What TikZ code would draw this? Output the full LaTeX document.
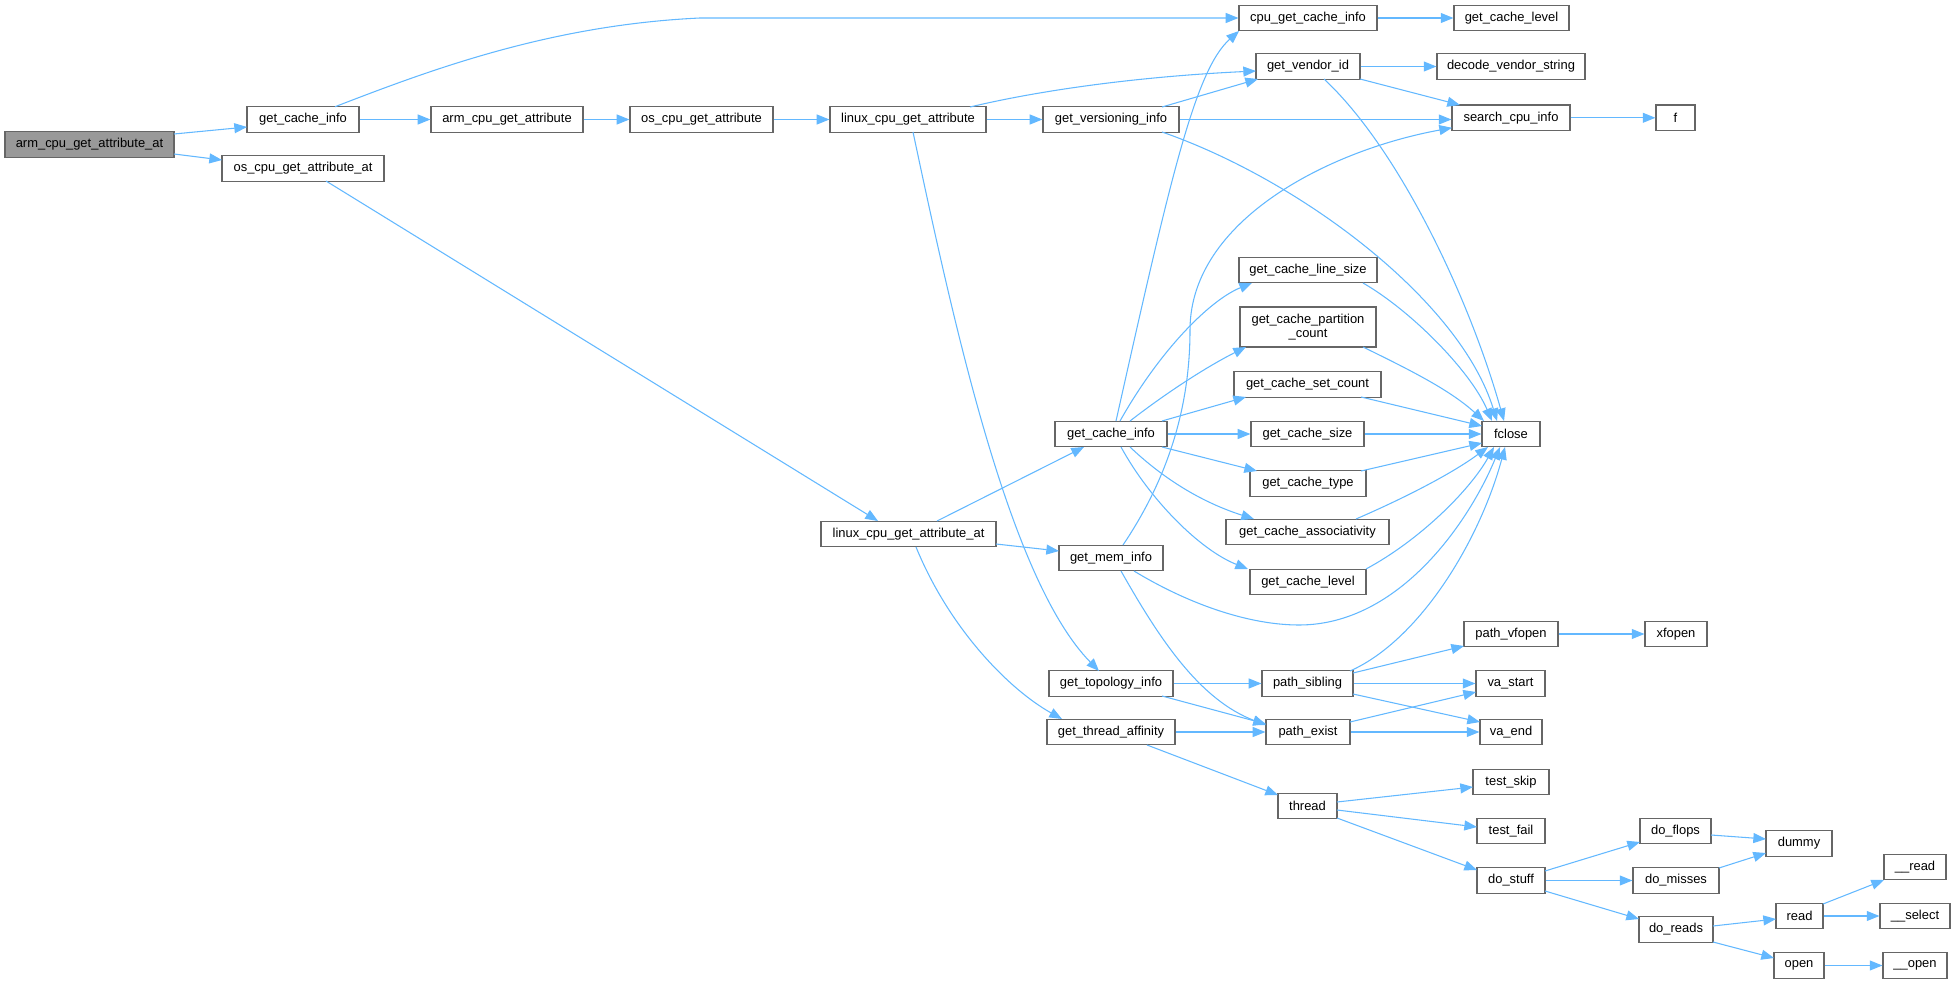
\documentclass[tikz,border=0pt]{standalone}
\usepackage{fontspec}
\setmainfont{Liberation Sans}
\usetikzlibrary{arrows.meta}
\definecolor{edgeblue}{HTML}{63B8FF}
\definecolor{boxgray}{HTML}{666666}
\definecolor{rootfill}{HTML}{999999}
\newcommand{\nd}[3]{([shift={(#2,#3)}]#1.center)}
\begin{document}
\begin{tikzpicture}[x=0.75pt,y=-0.75pt,
  box/.style={draw=boxgray,line width=0.9pt,fill=white,inner sep=0pt,minimum height=19.1pt,
    font=\fontsize{9.7}{10.8}\selectfont,align=center},
  rootbox/.style={box,fill=rootfill},
  edge/.style={draw=edgeblue,line width=0.8pt,-{Triangle[length=9.5pt,width=7.5pt]}}]
\useasboundingbox (0,0) rectangle (1956,984);
% nodes
\node[rootbox,minimum width=126.75pt] (root) at (89.5,144.5) {arm\_cpu\_get\_attribute\_at};
\node[box,minimum width=84pt] (gci1) at (303,119.5) {get\_cache\_info};
\node[box,minimum width=114pt] (armga) at (507,119.5) {arm\_cpu\_get\_attribute};
\node[box,minimum width=107.25pt] (osga) at (701.5,119.5) {os\_cpu\_get\_attribute};
\node[box,minimum width=121.5pt] (osgaat) at (303,168.5) {os\_cpu\_get\_attribute\_at};
\node[box,minimum width=117pt] (linga) at (908,119.5) {linux\_cpu\_get\_attribute};
\node[box,minimum width=102pt] (gvi) at (1111,119.5) {get\_versioning\_info};
\node[box,minimum width=103.5pt] (cgci) at (1308,18) {cpu\_get\_cache\_info};
\node[box,minimum width=78pt] (gvid) at (1308,66.5) {get\_vendor\_id};
\node[box,minimum width=86.25pt] (gcl1) at (1511.5,18) {get\_cache\_level};
\node[box,minimum width=111pt] (dvs) at (1511,66.5) {decode\_vendor\_string};
\node[box,minimum width=88.5pt] (sci) at (1511,117.8) {search\_cpu\_info};
\node[box,minimum width=29.25pt] (f) at (1675.5,117.8) {f};
\node[box,minimum width=131.25pt] (llat) at (908.5,534) {linux\_cpu\_get\_attribute\_at};
\node[box,minimum width=84pt] (gci2) at (1111,434) {get\_cache\_info};
\node[box,minimum width=103.5pt] (gcls) at (1308,270) {get\_cache\_line\_size};
\node[box,minimum width=102pt,minimum height=30pt] (gcpc) at (1308,327) {get\_cache\_partition\\\_count};
\node[box,minimum width=110.25pt] (gcsc) at (1307.5,384.5) {get\_cache\_set\_count};
\node[box,minimum width=84.75pt] (gcs) at (1307.5,434) {get\_cache\_size};
\node[box,minimum width=87pt] (gct) at (1308,483.5) {get\_cache\_type};
\node[box,minimum width=122.25pt] (gca) at (1307.5,532) {get\_cache\_associativity};
\node[box,minimum width=87pt] (gcl2) at (1308,582) {get\_cache\_level};
\node[box,minimum width=43.5pt] (fclose) at (1511,434) {fclose};
\node[box,minimum width=78pt] (gmi) at (1111,558) {get\_mem\_info};
\node[box,minimum width=93pt] (gti) at (1111,683.5) {get\_topology\_info};
\node[box,minimum width=96pt] (gta) at (1111,732) {get\_thread\_affinity};
\node[box,minimum width=68.25pt] (ps) at (1307.5,683.5) {path\_sibling};
\node[box,minimum width=63pt] (pe) at (1308,732) {path\_exist};
\node[box,minimum width=44.25pt] (thr) at (1307.5,806) {thread};
\node[box,minimum width=70.5pt] (pvf) at (1511,634) {path\_vfopen};
\node[box,minimum width=46.5pt] (xf) at (1676,634) {xfopen};
\node[box,minimum width=51.75pt] (vs) at (1510.5,683.5) {va\_start};
\node[box,minimum width=46.5pt] (ve) at (1511,732) {va\_end};
\node[box,minimum width=57pt] (tsk) at (1511,782) {test\_skip};
\node[box,minimum width=51pt] (tf) at (1511,831) {test\_fail};
\node[box,minimum width=51pt] (ds) at (1511,880.5) {do\_stuff};
\node[box,minimum width=53.25pt] (dfl) at (1675.5,831) {do\_flops};
\node[box,minimum width=64.5pt] (dmi) at (1676,880.5) {do\_misses};
\node[box,minimum width=55.5pt] (dre) at (1676,929.5) {do\_reads};
\node[box,minimum width=49.5pt] (dum) at (1799,843.5) {dummy};
\node[box,minimum width=35.25pt] (rd) at (1799.5,916) {read};
\node[box,minimum width=37.5pt] (op) at (1799,965.5) {open};
\node[box,minimum width=46.5pt] (uread) at (1915,867) {\_\_read};
\node[box,minimum width=52.5pt] (uselect) at (1915,916) {\_\_select};
\node[box,minimum width=48pt] (uopen) at (1915,965.5) {\_\_open};
% edges
\draw[edge] \nd{root}{84.5}{-10.5} -- \nd{gci1}{-56}{7.5};
\draw[edge] \nd{root}{84.5}{9.5} -- \nd{osgaat}{-81}{-8.5};
\draw[edge] \nd{gci1}{32}{-12.75} .. controls (430,70) and (550,25) .. (700,18) -- (cgci.west);
\draw[edge] (gci1.east) -- (armga.west);
\draw[edge] (armga.east) -- (osga.west);
\draw[edge] (osga.east) -- (linga.west);
\draw[edge] \nd{linga}{62}{-12.5} .. controls (1050,88) and (1150,76) .. \nd{gvid}{-52}{4.5};
\draw[edge] (linga.east) -- (gvi.west);
\draw[edge] \nd{linga}{5}{12.5} .. controls (955,330) and (1010,580) .. \nd{gti}{-12}{-12.5};
\draw[edge] \nd{gvi}{51}{-12.5} -- \nd{gvid}{-50}{12.5};
\draw[edge] (gvi.east) -- (gvi.east -| sci.west);
\draw[edge] \nd{gvi}{51}{12.5} .. controls (1300,180) and (1460,300) .. \nd{fclose}{-14}{-13};
\draw[edge] (cgci.east) -- (gcl1.west);
\draw[edge] (gvid.east) -- (dvs.west);
\draw[edge] \nd{gvid}{52}{12.5} -- \nd{sci}{-51}{-12.8};
\draw[edge] \nd{gvid}{16}{12.5} .. controls (1400,150) and (1470,300) .. \nd{fclose}{-7}{-13};
\draw[edge] (sci.east) -- (f.west);
\draw[edge] \nd{osgaat}{23}{12.5} -- \nd{llat}{-30.5}{-13};
\draw[edge] \nd{llat}{28.5}{-13} -- \nd{gci2}{-27}{13};
\draw[edge] \nd{llat}{87.5}{10} -- \nd{gmi}{-52}{-7};
\draw[edge] \nd{llat}{7.5}{13} .. controls (950,630) and (1010,690) .. \nd{gta}{-49}{-13};
\draw[edge] \nd{gci2}{5}{-13} .. controls (1170,180) and (1195,70) .. \nd{cgci}{-69}{13};
\draw[edge] \nd{gci2}{9}{-13} .. controls (1160,350) and (1210,300) .. \nd{gcls}{-56}{13};
\draw[edge] \nd{gci2}{19}{-13} .. controls (1170,390) and (1210,365) .. \nd{gcpc}{-62}{20};
\draw[edge] \nd{gci2}{51}{-13} -- \nd{gcsc}{-61.5}{12.5};
\draw[edge] (gci2.east) -- (gcs.west);
\draw[edge] \nd{gci2}{51}{13} -- \nd{gct}{-51}{-12.5};
\draw[edge] \nd{gci2}{19}{13} .. controls (1170,485) and (1210,505) .. \nd{gca}{-53.5}{-13};
\draw[edge] \nd{gci2}{10}{13} .. controls (1150,500) and (1200,550) .. \nd{gcl2}{-60}{-13};
\draw[edge] \nd{gmi}{12}{-13} .. controls (1160,490) and (1190,420) .. (1190,330)
   .. controls (1190,220) and (1330,150) .. \nd{sci}{-59}{10};
\draw[edge] \nd{gmi}{23}{13} .. controls (1190,605) and (1250,625) .. (1299,625)
   .. controls (1400,625) and (1470,520) .. \nd{fclose}{-11}{13};
\draw[edge] \nd{gmi}{10}{13} .. controls (1160,640) and (1200,700) .. \nd{pe}{-42}{-7};
\draw[edge] \nd{gcls}{55}{13} .. controls (1410,310) and (1470,370) .. \nd{fclose}{-19}{-13};
\draw[edge] \nd{gcpc}{55}{20} .. controls (1410,370) and (1450,390) .. \nd{fclose}{-27}{-13};
\draw[edge] \nd{gcsc}{53.5}{12.5} -- \nd{fclose}{-29}{-8};
\draw[edge] (gcs.east) -- (fclose.west);
\draw[edge] \nd{gct}{53}{-12.5} -- \nd{fclose}{-29}{9};
\draw[edge] \nd{gca}{48.5}{-13} .. controls (1400,500) and (1450,475) .. \nd{fclose}{-23}{13};
\draw[edge] \nd{gcl2}{58}{-13} .. controls (1420,540) and (1470,490) .. \nd{fclose}{-17}{13};
\draw[edge] (gti.east) -- (ps.west);
\draw[edge] \nd{gti}{51}{12.5} -- \nd{pe}{-42}{-8};
\draw[edge] (gta.east) -- (pe.west);
\draw[edge] \nd{gta}{36}{13} -- \nd{thr}{-29.5}{-11};
\draw[edge] \nd{ps}{42.5}{-12.5} .. controls (1420,640) and (1480,540) .. \nd{fclose}{-6}{13};
\draw[edge] \nd{ps}{45.5}{-10.5} -- \nd{pvf}{-47}{12};
\draw[edge] (ps.east) -- (vs.west);
\draw[edge] \nd{ps}{45.5}{10.5} -- \nd{ve}{-31}{-10};
\draw[edge] \nd{pe}{42}{-10} -- \nd{vs}{-34.5}{8.5};
\draw[edge] (pe.east) -- (ve.west);
\draw[edge] (pvf.east) -- (xf.west);
\draw[edge] \nd{thr}{29.5}{-4} -- \nd{tsk}{-38}{5};
\draw[edge] \nd{thr}{29.5}{4} -- \nd{tf}{-34}{-4};
\draw[edge] \nd{thr}{29.5}{12} -- \nd{ds}{-34}{-10.5};
\draw[edge] \nd{ds}{34}{-9.5} -- \nd{dfl}{-35.5}{11};
\draw[edge] (ds.east) -- (dmi.west);
\draw[edge] \nd{ds}{34}{10.5} -- \nd{dre}{-37}{-10.5};
\draw[edge] \nd{dfl}{35.5}{4} -- \nd{dum}{-33}{-4.5};
\draw[edge] \nd{dmi}{43}{-12.5} -- \nd{dum}{-33}{9.5};
\draw[edge] \nd{dre}{37}{-3.5} -- \nd{rd}{-23.5}{3};
\draw[edge] \nd{dre}{37}{12.5} -- \nd{op}{-25}{-7.5};
\draw[edge] \nd{rd}{23.5}{-12} -- \nd{uread}{-31}{13};
\draw[edge] (rd.east) -- (uselect.west);
\draw[edge] (op.east) -- (uopen.west);
\end{tikzpicture}
\end{document}
